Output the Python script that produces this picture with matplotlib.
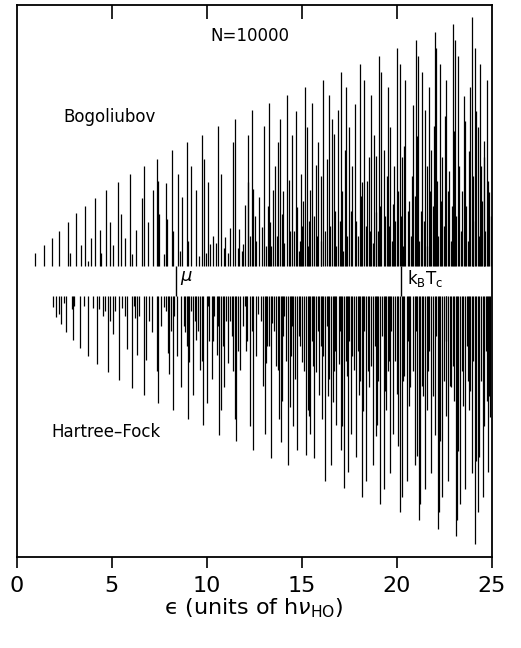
import numpy as np
import matplotlib
matplotlib.use('Agg')
import matplotlib.pyplot as plt

# stick spectra: energy (units of h nu_HO) and weight (arb. units)
bog_energy = [0.99, 1.43, 1.85, 2.25, 2.69, 2.82, 3.12, 3.38, 3.61, 3.78, 3.91, 4.12, 4.41, 4.46,
              4.71, 4.94, 5.08, 5.33, 5.48, 5.73, 5.97, 6.08, 6.31, 6.62, 6.71, 6.91, 7.20, 7.38,
              7.46, 7.52, 7.76, 7.85, 7.91, 8.17, 8.22, 8.48, 8.73, 8.96, 9.20, 9.43, 9.78, 9.88,
              10.09, 10.20, 10.62, 10.76, 10.97, 11.12, 11.41, 11.50, 11.73, 11.94, 12.03, 12.17,
              12.20, 12.41, 12.43, 12.76, 12.91, 13.01, 13.29, 13.34, 13.48, 13.61, 13.75, 13.87,
              13.96, 14.25, 14.34, 14.48, 14.69, 14.75, 14.97, 15.18, 15.27, 15.45, 15.57, 15.75,
              15.88, 16.15, 16.33, 16.45, 16.59, 16.69, 16.92, 17.09, 17.27, 17.36, 17.48, 17.80,
              18.06, 18.18, 18.31, 18.54, 18.67, 18.83, 18.94, 19.06, 19.20, 19.33, 19.55, 19.67,
              19.82, 20.04, 20.17, 20.29, 20.46, 20.87, 21.04, 21.13, 21.34, 21.52, 21.73, 21.82,
              22.01, 22.09, 22.27, 22.39, 22.61, 22.99, 23.09, 23.24, 23.54, 23.85, 23.97, 24.15,
              24.27, 24.41, 24.59, 24.76, 24.88]
bog_weight = [5.2, 8.4, 11.2, 14.0, 17.6, 5.2, 21.2, 8.4, 24.0, 2.0, 11.2, 27.2, 14.4, 5.2,
              30.4, 17.6, 8.4, 33.6, 20.8, 11.2, 36.8, 4.8, 14.4, 27.2, 40.0, 17.6, 30.4, 42.8,
              34.0, 20.8, 4.8, 33.2, 18.8, 46.4, 14.0, 36.8, 27.6, 49.6, 40.0, 30.4, 52.4, 42.8,
              33.6, 8.8, 56.0, 36.8, 11.6, 5.2, 49.6, 58.8, 14.8, 8.8, 24.4, 33.6,
              52.4, 62.4, 30.8, 27.6, 15.6, 56.0, 65.2, 17.6, 30.4, 40.0, 49.6, 58.8,
              20.8, 68.4, 34.4, 52.4, 62.0, 23.6, 36.8, 71.6, 55.6, 30.4, 65.2, 40.4,
              49.6, 74.4, 42.8, 68.4, 58.8, 52.8, 62.4, 77.6, 46.4, 71.6, 55.6, 64.8,
              80.8, 33.6, 74.4, 43.6, 68.4, 52.4, 21.6, 84.0, 77.6, 46.4, 71.6, 55.6,
              24.8, 87.2, 80.8, 43.6, 74.4, 64.4, 90.4, 84.0, 77.6, 62.4, 71.6, 46.4,
              93.6, 87.2, 80.8, 43.6, 74.4, 96.8, 90.4, 84.0, 68.0, 71.6, 99.6, 87.2,
              55.6, 80.8, 43.6, 74.4, 29.6]
bog_energy_minor = [8.60, 9.05, 9.60, 10.35, 10.90, 11.25, 11.85, 12.60, 13.15, 13.70, 14.10,
                    14.60, 14.85, 15.05, 15.35, 15.65, 16.00, 16.25, 16.80, 17.00, 17.20, 17.60,
                    17.95, 18.40, 18.75, 19.00, 19.42, 19.75, 19.93, 20.35, 20.60, 20.75, 20.95,
                    21.20, 21.45, 21.62, 21.92, 22.20, 22.48, 22.70, 22.85, 23.15, 23.40, 23.65,
                    23.75, 24.05, 24.35, 24.50, 24.68, 24.95,
                    9.95, 10.50, 11.65, 12.30, 12.55, 13.22, 13.42, 14.02, 14.40, 14.90, 15.10,
                    15.40, 15.82, 16.05, 16.52, 16.75, 17.15, 17.42, 17.68, 17.88, 18.12, 18.46,
                    18.60, 18.90, 19.12, 19.50, 19.62, 19.88, 20.10, 20.22, 20.40, 20.68, 20.80,
                    21.08, 21.28, 21.58, 21.78, 21.97, 22.14, 22.33, 22.55, 22.78, 22.93, 23.03,
                    23.30, 23.47, 23.60, 23.80, 24.00, 24.20, 24.45, 24.63, 24.82]
bog_weight_minor = [6, 10, 4, 12, 7, 15, 6, 10, 8, 12, 9,
                    14, 6, 16, 8, 20, 10, 14, 8, 18, 6, 22,
                    12, 16, 9, 14, 20, 10, 18, 8, 22, 12, 28,
                    10, 18, 8, 24, 12, 16, 30, 10, 20, 14, 24,
                    10, 18, 12, 26, 14, 20,
                    5, 9, 7, 12, 20, 24, 8, 30, 14, 10, 26,
                    18, 12, 36, 16, 22, 30, 12, 40, 18, 28, 34,
                    14, 44, 24, 36, 16, 40, 30, 20, 48, 26, 36,
                    52, 22, 40, 30, 56, 34, 26, 60, 38, 24, 54,
                    40, 30, 58, 46, 36, 62, 40, 50, 34]

hf_energy = [1.94, 2.08, 2.22, 2.34, 2.61, 2.94, 2.99, 3.34, 3.78, 4.25, 4.36, 4.54, 4.80, 4.92,
             5.09, 5.41, 5.57, 5.83, 6.06, 6.18, 6.33, 6.45, 6.73, 6.82, 7.12, 7.38, 7.46, 7.76,
             7.99, 8.04, 8.22, 8.46, 8.64, 8.87, 9.01, 9.09, 9.31, 9.45, 9.66, 9.83, 10.01, 10.09,
             10.27, 10.54, 10.67, 10.75, 10.94, 11.15, 11.24, 11.50, 11.57, 11.78, 12.03, 12.29,
             12.46, 12.73, 13.08, 13.12, 13.38, 13.43, 13.75, 13.83, 13.92, 14.08, 14.31, 14.39,
             14.57, 14.66, 14.78, 15.01, 15.24, 15.33, 15.45, 15.66, 15.75, 15.92, 16.06, 16.24,
             16.45, 16.55, 16.64, 16.82, 16.96, 17.08, 17.22, 17.45, 17.61, 17.75, 17.88, 18.01,
             18.18, 18.39, 18.54, 18.76, 18.97, 19.15, 19.33, 19.46, 19.64, 19.82, 20.03, 20.17,
             20.29, 20.55, 20.73, 20.96, 21.17, 21.22, 21.48, 21.61, 21.82, 22.01, 22.17, 22.25,
             22.39, 22.71, 22.87, 23.13, 23.18, 23.33, 23.59, 23.80, 23.97, 24.12, 24.27, 24.36,
             24.54, 24.82, 24.94]
hf_weight = [4.4, 8.4, 7.2, 11.2, 14.4, 5.2, 17.6, 20.8, 24.0, 27.2, 5.2, 8.0, 30.4, 10.0,
             15.2, 33.6, 4.8, 21.2, 36.8, 4.0, 23.6, 8.0, 39.6, 25.6, 14.4, 30.0, 42.8, 4.4,
             22.8, 31.2, 45.6, 24.0, 36.4, 14.4, 49.2, 26.4, 39.6, 17.6, 29.6, 51.6, 42.8, 4.0,
             33.2, 23.6, 55.6, 45.6, 36.4, 26.8, 10.0, 49.2, 58.0, 29.6, 4.0, 52.0,
             61.6, 7.2, 55.2, 26.8, 64.8, 10.8, 29.6, 49.2, 58.4, 8.0, 67.6, 44.4,
             52.0, 33.2, 61.6, 26.4, 63.6, 45.6, 55.2, 64.8, 30.4, 39.6, 49.2, 74.0,
             33.2, 67.6, 42.4, 51.6, 27.2, 61.6, 76.8, 70.4, 55.2, 29.6, 64.4, 39.6,
             80.4, 74.0, 36.4, 67.6, 51.6, 83.2, 77.2, 45.6, 70.8, 55.2, 39.2, 86.4,
             80.4, 74.0, 36.4, 67.6, 89.6, 83.2, 77.2, 45.6, 70.8, 55.6, 93.2, 86.4,
             80.4, 74.0, 36.4, 96.0, 89.6, 83.2, 77.2, 45.6, 70.8, 99.2, 86.4, 64.4,
             80.4, 70.4, 48.4]
hf_energy_minor = [8.30, 8.80, 9.20, 9.55, 10.15, 10.40, 10.85, 11.05, 11.35, 11.68, 11.90,
                   12.15, 12.60, 12.85, 13.20, 13.55, 13.65, 14.00, 14.20, 14.48, 14.90, 15.12,
                   15.55, 15.85, 16.15, 16.35, 16.72, 17.00, 17.32, 17.52, 17.95, 18.10, 18.28,
                   18.65, 18.86, 19.05, 19.25, 19.55, 19.72, 19.92, 20.40, 20.62, 20.85, 21.05,
                   21.35, 21.72, 21.92, 22.08, 22.50, 22.62, 22.95, 23.05, 23.45, 23.70, 23.88,
                   24.05, 24.45, 24.70, 24.88,
                   2.50, 3.05, 3.55, 4.05, 4.65, 5.20, 5.70, 6.25, 6.95, 7.60, 7.88, 8.12,
                   8.95, 9.38, 9.75, 10.33, 10.60, 11.40, 12.10, 12.38, 12.95, 13.30, 13.98,
                   14.45, 14.85, 15.40, 15.60, 16.00, 16.38, 16.78, 17.15, 17.40, 17.68, 18.22,
                   18.48, 18.90, 19.40, 19.58, 20.10, 20.35, 20.68, 21.10, 21.40, 21.68, 22.30,
                   22.58, 22.80, 23.25, 23.52, 23.75, 24.20, 24.62, 24.75]
hf_weight_minor = [8, 12, 6, 14, 18, 8, 20, 10, 16, 22, 12,
                   18, 24, 10, 20, 14, 28, 16, 26, 12, 20, 30,
                   18, 14, 24, 12, 30, 14, 26, 18, 22, 34, 14,
                   28, 20, 34, 16, 30, 14, 26, 32, 18, 30, 14,
                   36, 22, 40, 16, 34, 18, 28, 42, 30, 20, 38,
                   26, 34, 22, 40,
                   3, 4, 4, 5, 6, 6, 8, 9, 10, 12, 6, 14,
                   20, 10, 26, 18, 12, 30, 22, 14, 36, 20, 42,
                   24, 16, 48, 28, 20, 40, 22, 52, 32, 24, 46,
                   30, 56, 38, 26, 60, 34, 44, 64, 40, 30, 58,
                   48, 36, 62, 44, 34, 66, 52, 42]

mu_energy = 8.38
kbtc_energy = 20.25

gap = 6.0   # half height of the empty band around zero
top = 110.3
bottom = -110.5

fig = plt.figure(figsize=(5.21, 6.48), dpi=100)
ax = fig.add_axes([0.0317, 0.1404, 0.9117, 0.8519])

lc = 'black'
lw = 0.9
ax.vlines(bog_energy, gap, gap + np.array(bog_weight), color=lc, lw=lw)
ax.vlines(bog_energy_minor, gap, gap + np.array(bog_weight_minor), color=lc, lw=lw)
ax.vlines(hf_energy, -gap, -gap - np.array(hf_weight), color=lc, lw=lw)
ax.vlines(hf_energy_minor, -gap, -gap - np.array(hf_weight_minor), color=lc, lw=lw)

# markers in the central band
ax.vlines([mu_energy, kbtc_energy], -gap, gap, color='black', lw=1.0)
ax.text(mu_energy + 0.2, 1.0, r'$\mu$', fontsize=13, ha='left', va='center')
ax.text(kbtc_energy + 0.3, 1.0, r'k$_{\mathrm{B}}$T$_{\mathrm{c}}$', fontsize=12,
        ha='left', va='center')

ax.text(12.3, 98, 'N=10000', fontsize=12, ha='center', va='center')
ax.text(2.45, 65.5, 'Bogoliubov', fontsize=12, ha='left', va='center')
ax.text(1.85, -60.5, 'Hartree\u2013Fock', fontsize=12, ha='left', va='center')

ax.set_xlim(0, 25)
ax.set_ylim(bottom, top)
ax.set_yticks([])
ax.set_xticks([0, 5, 10, 15, 20, 25])
ax.tick_params(axis='x', direction='out', length=8, width=1.2, labelsize=16, pad=6)
for s in ax.spines.values():
    s.set_linewidth(1.3)

# top ticks point inward, bottom ones outward
sec = ax.secondary_xaxis('top')
sec.set_xticks([5, 10, 15, 20])
sec.tick_params(direction='in', length=10, width=1.2, labeltop=False)
sec.spines['top'].set_visible(False)
ax.tick_params(axis='x', top=False)

ax.set_xlabel('\u03f5 (units of h$\\nu_{\\mathrm{HO}}$)', fontsize=16, labelpad=0)

fig.savefig('out.png', dpi=100)
